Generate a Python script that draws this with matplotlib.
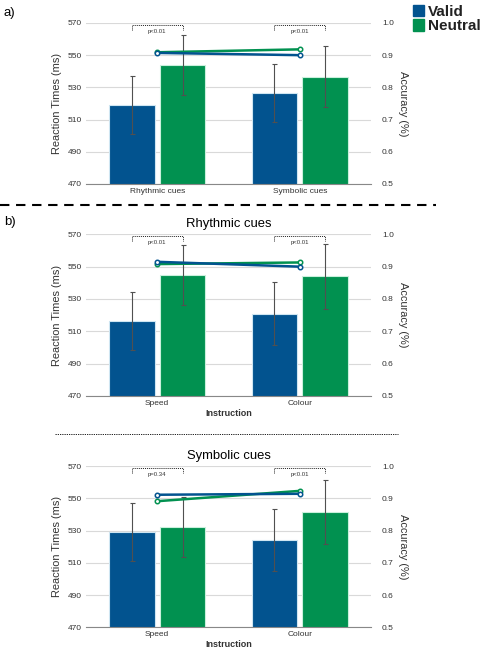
import matplotlib.pyplot as plt
from matplotlib.lines import Line2D
import numpy as np

plt.rcParams['font.family'] = ['Liberation Sans', 'DejaVu Sans']

BLUE = '#02538f'
GREEN = '#019150'

# panel a) cue type
cues = ['Rhythmic cues', 'Symbolic cues']
rt_valid_a = [519, 526.5]
rt_neutral_a = [544, 536.5]
err_valid_a = [18, 18]
err_neutral_a = [18.8, 19]
acc_valid_a = [0.907, 0.900]
acc_neutral_a = [0.909, 0.918]
p_a = ['p<0.01', 'p<0.01']

# panel b) instruction, rhythmic cues
instr = ['Speed', 'Colour']
rt_valid_r = [516.5, 521]
rt_neutral_r = [544.7, 544.1]
err_valid_r = [18, 19.4]
err_neutral_r = [18.5, 20]
acc_valid_r = [0.915, 0.900]
acc_neutral_r = [0.908, 0.913]
p_r = ['p<0.01', 'p<0.01']

# panel b) instruction, symbolic cues
rt_valid_s = [529.3, 524.1]
rt_neutral_s = [532.2, 541.4]
err_valid_s = [18, 19.3]
err_neutral_s = [18.5, 19.8]
acc_valid_s = [0.911, 0.914]
acc_neutral_s = [0.891, 0.923]
p_s = ['p=0.34', 'p<0.01']


def panel(rect, labels, rv, rn, ev, en, av, an, pvals, title=None, xlabel=None):
    ax = fig.add_axes(rect)
    x = np.arange(len(labels))
    w = 0.32
    off = 0.178
    ax.bar(x - off, rv, w, bottom=0, color=BLUE, edgecolor='#cfe6f2', linewidth=0.8, zorder=2)
    ax.bar(x + off, rn, w, bottom=0, color=GREEN, edgecolor='#c9f0dc', linewidth=0.8, zorder=2)
    ax.errorbar(x - off, rv, yerr=ev, fmt='none', ecolor='#505050', elinewidth=0.8,
                capsize=1.8, capthick=0.8, zorder=3)
    ax.errorbar(x + off, rn, yerr=en, fmt='none', ecolor='#505050', elinewidth=0.8,
                capsize=1.8, capthick=0.8, zorder=3)
    ax.set_ylim(470, 570)
    ax.set_xlim(-0.5, len(labels) - 0.5)
    ax.set_yticks([470, 490, 510, 530, 550, 570])
    ax.set_xticks(x)
    ax.set_xticklabels(labels, fontsize=6, color='#333333')
    ax.tick_params(axis='both', length=0, labelsize=6, labelcolor='#333333', pad=3)
    ax.grid(axis='y', color='#d9d9d9', linewidth=0.8, zorder=0)
    ax.set_axisbelow(True)
    for s in ['top', 'left', 'right']:
        ax.spines[s].set_visible(False)
    ax.spines['bottom'].set_color('#888888')
    ax.spines['bottom'].set_linewidth(0.8)
    ax.set_ylabel('Reaction Times (ms)', fontsize=7.9, color='#333333', labelpad=4)
    if xlabel:
        ax.set_xlabel(xlabel, fontsize=6.5, fontweight='bold', color='#333333', labelpad=1)
    if title:
        ax.set_title(title, fontsize=9.4, pad=5)

    # significance brackets
    for i, p in enumerate(pvals):
        ax.plot([i - off, i - off, i + off, i + off], [565.6, 568.8, 568.8, 565.6],
                color='#222222', linewidth=0.7, linestyle=(0, (1, 1)), zorder=4)
        ax.text(i, 565, p, fontsize=4.3, ha='center', va='center', color='#333333')

    ax2 = ax.twinx()
    ax2.set_ylim(0.5, 1.0)
    ax2.set_yticks([0.5, 0.6, 0.7, 0.8, 0.9, 1.0])
    ax2.set_yticklabels(['0.5', '0.6', '0.7', '0.8', '0.9', '1.0'])
    ax2.tick_params(axis='y', length=0, labelsize=6, labelcolor='#333333', pad=8)
    for s in ['top', 'left', 'right', 'bottom']:
        ax2.spines[s].set_visible(False)
    ax2.set_ylabel('Accuracy (%)', fontsize=7.9, color='#333333', rotation=270, labelpad=10)
    ax2.plot(x, an, color=GREEN, linewidth=1.8, marker='o', markersize=3.2,
             markerfacecolor='white', markeredgewidth=1.1, zorder=5)
    ax2.plot(x, av, color=BLUE, linewidth=1.8, marker='o', markersize=3.2,
             markerfacecolor='white', markeredgewidth=1.1, zorder=5)
    return ax


fig = plt.figure(figsize=(4.85, 6.54), dpi=100)

panel([0.1773, 0.7187, 0.5876, 0.2462], cues, rt_valid_a, rt_neutral_a,
      err_valid_a, err_neutral_a, acc_valid_a, acc_neutral_a, p_a)
panel([0.1773, 0.3945, 0.5876, 0.2472], instr, rt_valid_r, rt_neutral_r,
      err_valid_r, err_neutral_r, acc_valid_r, acc_neutral_r, p_r,
      title='Rhythmic cues', xlabel='Instruction')
panel([0.1773, 0.0408, 0.5876, 0.2466], instr, rt_valid_s, rt_neutral_s,
      err_valid_s, err_neutral_s, acc_valid_s, acc_neutral_s, p_s,
      title='Symbolic cues', xlabel='Instruction')

# panel letters
fig.text(0.008, 0.980, 'a)', fontsize=9.5, ha='left', va='center')
fig.text(0.008, 0.660, 'b)', fontsize=9.5, ha='left', va='center')

# separators
fig.add_artist(Line2D([0.0, 0.9], [0.6865, 0.6865], color='black', linewidth=1.5,
                      linestyle=(0, (4.5, 3.2))))
fig.add_artist(Line2D([0.113, 0.821], [0.3364, 0.3364], color='black', linewidth=0.6,
                      linestyle=(0, (1.5, 1.2))))

# legend
handles = [plt.Rectangle((0, 0), 1, 1, color=BLUE), plt.Rectangle((0, 0), 1, 1, color=GREEN)]
leg = fig.legend(handles, ['Valid', 'Neutral'], loc='upper left', bbox_to_anchor=(0.851, 0.993),
                 frameon=False, handlelength=0.75, handleheight=0.75, handletextpad=0.25,
                 labelspacing=0.05, borderpad=0, borderaxespad=0,
                 prop={'size': 11, 'weight': 'bold'})
for t in leg.get_texts():
    t.set_color('#222222')

fig.savefig('out.png', dpi=100)
